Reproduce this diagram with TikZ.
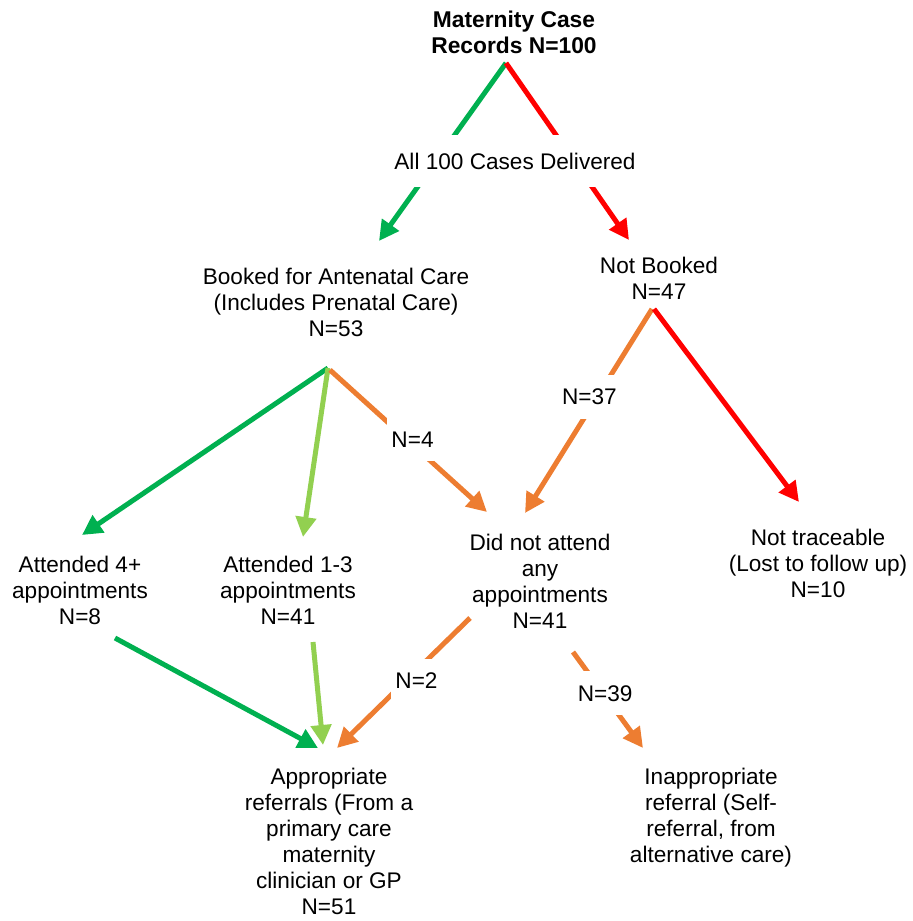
\documentclass[tikz,border=0pt]{standalone}
\usepackage{fontspec}
\setmainfont{Liberation Sans}
\usetikzlibrary{arrows.meta}
\definecolor{darkgrn}{HTML}{00B050}
\definecolor{lightgrn}{HTML}{92D050}
\definecolor{orng}{HTML}{ED7D31}
\definecolor{rd}{HTML}{FF0000}
\tikzset{
    txt/.style={align=center, inner sep=0pt, font=\fontsize{11.3}{13}\selectfont},
    lbl/.style={fill=white, text=black, inner xsep=2pt, inner ysep=7pt, font=\fontsize{11.3}{13}\selectfont},
    arr/.style={line width=2.5pt, -{Triangle[length=10pt,width=10pt]}}
}
\begin{document}
\begin{tikzpicture}[x=0.5pt, y=-0.5pt]
    \useasboundingbox (0,0) rectangle (912,921);
    \node[txt, font=\fontsize{11.4}{13}\selectfont\bfseries] (records) at (514,32) {Maternity Case\\Records N=100};
    \node[txt] (booked) at (336,302) {Booked for Antenatal Care\\(Includes Prenatal Care)\\N=53};
    \node[txt] (notbooked) at (659,278) {Not Booked\\N=47};
    \node[txt] (att4) at (80,590) {Attended 4+\\appointments\\N=8};
    \node[txt] (att13) at (288,590) {Attended 1-3\\appointments\\N=41};
    \node[txt] (noattend) at (540,581) {Did not attend\\any\\appointments\\N=41};
    \node[txt] (lost) at (818,563) {Not traceable\\(Lost to follow up)\\N=10};
    \node[txt] (appropriate) at (329,841) {Appropriate\\referrals (From a\\primary care\\maternity\\clinician or GP\\N=51};
    \node[txt] (inappropriate) at (711,818) {Inappropriate\\referral (Self-\\referral, from\\alternative care)};

    \draw[arr, darkgrn] ([shift={(-8,31)}]records.center) -- ([shift={(43,-61)}]booked.center);
    \draw[arr, rd] ([shift={(-8,31)}]records.center) -- ([shift={(-30,-38)}]notbooked.center);
    \node[txt, fill=white, inner ysep=9pt] (delivered) at (515,161) {All 100 Cases Delivered};

    \draw[arr, darkgrn] ([shift={(-8,66)}]booked.center) -- ([shift={(2,-55)}]att4.center);
    \draw[arr, lightgrn] ([shift={(-8,66)}]booked.center) -- ([shift={(15,-53)}]att13.center);
    \draw[arr, orng] ([shift={(-6,68)}]booked.center) -- node[lbl, pos=0.49, xshift=2.8pt] (n4) {N=4} ([shift={(-53,-69)}]noattend.center);
    \draw[arr, orng] ([shift={(-7,31)}]notbooked.center) -- node[lbl, pos=0.43, xshift=-4pt] (n37) {N=37} ([shift={(-15,-68)}]noattend.center);
    \draw[arr, rd] ([shift={(-5,31)}]notbooked.center) -- ([shift={(-19,-61)}]lost.center);

    \draw[arr, darkgrn] ([shift={(35,48)}]att4.center) -- ([shift={(-11,-93)}]appropriate.center);
    \draw[arr, lightgrn] ([shift={(25,52)}]att13.center) -- ([shift={(-6,-96)}]appropriate.center);
    \draw[arr, orng] ([shift={(-70,37)}]noattend.center) -- node[lbl, pos=0.485, xshift=5.5pt] (n2) {N=2} ([shift={(8,-93)}]appropriate.center);
    \draw[arr, orng] ([shift={(33,71)}]noattend.center) -- node[lbl, pos=0.43, xshift=1pt] (n39) {N=39} ([shift={(-68,-70)}]inappropriate.center);
\end{tikzpicture}
\end{document}
